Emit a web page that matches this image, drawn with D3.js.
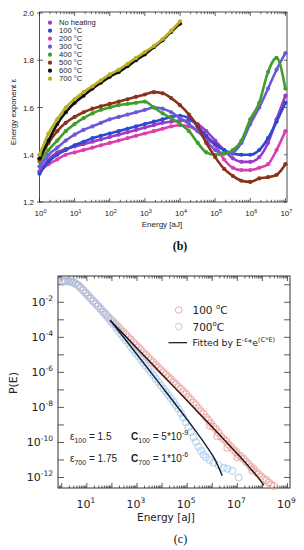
<!DOCTYPE html>
<html>
<head>
<meta charset="utf-8">
<script src="https://cdn.jsdelivr.net/npm/d3@7"></script>
<style>
  body { margin: 0; background: #fff; }
  svg { display: block; }
</style>
</head>
<body>
<div class="chart"></div>
<script>
// ---------- panel (b): energy exponent vs energy ----------
const energyB = [1, 1.8, 3.2, 5.6, 10, 18, 32, 56, 100, 180, 320, 560, 1e3, 1.8e3, 3.2e3, 5.6e3,
  1e4, 1.8e4, 3.2e4, 5.6e4, 1e5, 1.8e5, 3.2e5, 5.6e5, 1e6, 1.8e6, 3.2e6, 5.6e6, 1e7];

const noHeating = [1.33, 1.38, 1.41, 1.425, 1.435, 1.445, 1.455, 1.465, 1.475, 1.485, 1.495, 1.505, 1.515, 1.525, 1.535, 1.54,
  1.545, 1.545, 1.53, 1.50, 1.46, 1.42, 1.385, 1.37, 1.37, 1.39, 1.45, 1.55, 1.65];
const t100 = [1.32, 1.37, 1.40, 1.42, 1.44, 1.455, 1.47, 1.48, 1.49, 1.50, 1.51, 1.52, 1.53, 1.54, 1.55, 1.56,
  1.565, 1.555, 1.52, 1.48, 1.445, 1.42, 1.405, 1.40, 1.40, 1.42, 1.47, 1.54, 1.62];
const t200 = [1.33, 1.36, 1.38, 1.40, 1.41, 1.42, 1.43, 1.44, 1.45, 1.46, 1.47, 1.48, 1.49, 1.50, 1.51, 1.52,
  1.525, 1.52, 1.50, 1.47, 1.44, 1.38, 1.345, 1.335, 1.335, 1.345, 1.36, 1.42, 1.50];
const t300 = [1.35, 1.40, 1.43, 1.46, 1.485, 1.505, 1.52, 1.535, 1.55, 1.56, 1.57, 1.58, 1.59, 1.60, 1.595, 1.58,
  1.555, 1.53, 1.50, 1.46, 1.42, 1.405, 1.41, 1.45, 1.53, 1.60, 1.68, 1.76, 1.83];
const t400 = [1.37, 1.42, 1.46, 1.50, 1.53, 1.555, 1.575, 1.59, 1.60, 1.61, 1.615, 1.62, 1.625, 1.60, 1.575, 1.555,
  1.53, 1.50, 1.45, 1.41, 1.40, 1.405, 1.42, 1.46, 1.55, 1.62, 1.75, 1.81, 1.68];
const t500 = [1.38, 1.45, 1.50, 1.535, 1.56, 1.58, 1.595, 1.605, 1.615, 1.625, 1.635, 1.645, 1.655, 1.665, 1.66, 1.64,
  1.61, 1.57, 1.52, 1.45, 1.39, 1.34, 1.31, 1.29, 1.285, 1.30, 1.305, 1.315, 1.36];
const t600 = [1.385, 1.46, 1.53, 1.58, 1.62, 1.65, 1.68, 1.705, 1.73, 1.75, 1.775, 1.80, 1.825, 1.855, 1.885, 1.92,
  1.955, null, null, null, null, null, null, null, null, null, null, null, null];
const t700 = [1.40, 1.49, 1.55, 1.60, 1.635, 1.665, 1.69, 1.715, 1.74, 1.76, 1.785, 1.81, 1.835, 1.86, 1.89, 1.925,
  1.965, null, null, null, null, null, null, null, null, null, null, null, null];

const seriesNames = ["No heating", "100 °C", "200 °C", "300 °C", "400 °C", "500 °C", "600 °C", "700 °C"];
const seriesValues = [noHeating, t100, t200, t300, t400, t500, t600, t700];
const seriesColors = ["#9a3cc8", "#2f48d0", "#d840b0", "#6a5ad8", "#3f9f2a", "#8a3218", "#111111", "#b8b020"];
const yTicksB = [1.2, 1.4, 1.6, 1.8, 2.0];

// ---------- panel (c): P(E) distributions (log10 values) ----------
const logE100 = [0.05, 0.15, 0.25, 0.35, 0.45, 0.55, 0.65, 0.75, 0.85, 0.95, 1.05, 1.15, 1.25, 1.35, 1.45, 1.55, 1.65, 1.75,
  1.85, 1.95, 2.05, 2.15, 2.25, 2.35, 2.45, 2.55, 2.65, 2.75, 2.85, 2.95, 3.05, 3.15, 3.25, 3.35, 3.45, 3.55, 3.65, 3.75,
  3.85, 3.95, 4.05, 4.15, 4.25, 4.35, 4.45, 4.55, 4.65, 4.75, 4.85, 4.95, 5.05, 5.15, 5.25, 5.35, 5.45, 5.55, 5.65, 5.75,
  5.85, 5.95, 6.05, 6.15, 6.25, 6.35, 6.45, 6.55, 6.65, 6.75, 6.85, 6.95, 7.05, 7.15, 7.25, 7.35, 7.45, 7.55, 7.65, 7.75,
  7.85, 7.95, 8.05, 8.15, 8.25, 8.35, 8.45, 5.9, 6.2, 6.6, 7.0, 7.6];
const logP100 = [-0.80, -0.79, -0.80, -0.82, -0.86, -0.93, -1.03, -1.16, -1.31, -1.46, -1.62, -1.77, -1.92, -2.07, -2.22,
  -2.37, -2.52, -2.67, -2.82, -2.97, -3.11, -3.26, -3.40, -3.55, -3.70, -3.84, -3.99, -4.13, -4.28, -4.42, -4.57, -4.71,
  -4.86, -5.00, -5.15, -5.29, -5.43, -5.58, -5.72, -5.86, -6.00, -6.13, -6.28, -6.40, -6.55, -6.68, -6.83, -6.95, -7.10,
  -7.22, -7.40, -7.55, -7.72, -7.86, -8.05, -8.22, -8.36, -8.58, -8.72, -8.90, -9.10, -9.25, -9.45, -9.66, -9.80, -9.92,
  -10.12, -10.26, -10.42, -10.56, -10.72, -10.80, -10.95, -11.10, -11.25, -11.40, -11.52, -11.68, -11.82, -11.95, -12.08,
  -12.15, -12.28, -12.40, -12.48, -9.05, -9.65, -10.30, -10.85, -11.60];

const logE700 = [0.05, 0.15, 0.25, 0.35, 0.45, 0.55, 0.65, 0.75, 0.85, 0.95, 1.05, 1.15, 1.25, 1.35, 1.45, 1.55, 1.65, 1.75,
  1.85, 1.95, 2.05, 2.15, 2.25, 2.35, 2.45, 2.55, 2.65, 2.75, 2.85, 2.95, 3.05, 3.15, 3.25, 3.35, 3.45, 3.55, 3.65, 3.75,
  3.85, 3.95, 4.05, 4.15, 4.25, 4.35, 4.45, 4.55, 4.65, 4.75, 4.85, 4.95, 5.05, 5.15, 5.25, 5.35, 5.45, 5.55, 5.65, 5.75,
  5.9, 6.05, 6.25, 6.45, 6.6, 6.8, 7.05];
const logP700 = [-0.80, -0.79, -0.80, -0.82, -0.86, -0.93, -1.03, -1.16, -1.31, -1.46, -1.62, -1.77, -1.92, -2.07, -2.22,
  -2.39, -2.56, -2.73, -2.90, -3.08, -3.26, -3.44, -3.62, -3.80, -3.98, -4.16, -4.34, -4.52, -4.71, -4.89, -5.07, -5.25,
  -5.44, -5.62, -5.80, -5.99, -6.17, -6.36, -6.55, -6.73, -6.92, -7.11, -7.30, -7.49, -7.68, -7.88, -8.08, -8.32, -8.58,
  -8.85, -9.12, -9.40, -9.70, -9.98, -10.25, -10.48, -10.70, -10.85, -11.00, -11.15, -11.30, -11.45, -11.50, -11.62, -12.00];

const fitLogE100 = [1.93, 3.0, 4.0, 5.0, 6.0, 7.0, 7.5, 7.8, 8.06];
const fitLogP100 = [-3.02, -4.62, -6.12, -7.62, -9.12, -10.65, -11.45, -11.95, -12.45];
const fitLogE700 = [1.93, 3.0, 3.8, 5.0, 5.8, 6.1, 6.4];
const fitLogP700 = [-3.02, -4.98, -6.46, -8.70, -10.28, -10.95, -11.90];

const W = 304, H = 550;
const svg = d3.select(".chart").append("svg").attr("width", W).attr("height", H)
  .style("font-family", "'Liberation Sans', Arial, sans-serif");

// ===== panel (b) =====
const xb = d3.scaleLog().domain([1, 1.11e7]).range([39.5, 287]);
const yb = d3.scaleLinear().domain([1.2, 2.0]).range([202, 13]);
const gb = svg.append("g");

gb.append("rect").attr("x", 39.5).attr("y", 12).attr("width", 287 - 39.5).attr("height", 202 - 12)
  .attr("fill", "none").attr("stroke", "#222").attr("stroke-width", 0.8);

// x ticks (log, inside, top and bottom)
for (let d = 0; d <= 7; d++) {
  for (let k = 1; k <= 9; k++) {
    const v = k * Math.pow(10, d);
    if (v > xb.domain()[1]) continue;
    const x = xb(v), len = k === 1 ? 4 : 2.2;
    gb.append("line").attr("x1", x).attr("x2", x).attr("y1", 202).attr("y2", 202 - len).attr("stroke", "#222").attr("stroke-width", 0.7);
    gb.append("line").attr("x1", x).attr("x2", x).attr("y1", 12).attr("y2", 12 + len).attr("stroke", "#222").attr("stroke-width", 0.7);
  }
  const t = gb.append("text").attr("x", xb(Math.pow(10, d)) + 1).attr("y", 216).attr("text-anchor", "middle")
    .attr("font-size", 8).attr("fill", "#222");
  t.append("tspan").text("10");
  t.append("tspan").attr("dy", -3.5).attr("font-size", 5.5).text(d);
}
yTicksB.forEach(v => {
  const y = yb(v);
  gb.append("line").attr("x1", 37).attr("x2", 43).attr("y1", y).attr("y2", y).attr("stroke", "#222").attr("stroke-width", 0.7);
  gb.append("line").attr("x1", 284).attr("x2", 287).attr("y1", y).attr("y2", y).attr("stroke", "#222").attr("stroke-width", 0.7);
  gb.append("text").attr("x", 34).attr("y", y + 3).attr("text-anchor", "end").attr("font-size", 8).attr("fill", "#222")
    .text(v.toFixed(1));
});

const lineB = d3.line().defined(d => d[1] != null).x(d => xb(d[0])).y(d => yb(d[1])).curve(d3.curveMonotoneX);
const drawOrder = [0, 2, 1, 3, 4, 5, 6, 7];
drawOrder.forEach(i => {
  const pts = energyB.map((e, j) => [e, seriesValues[i][j]]);
  gb.append("path").datum(pts).attr("d", lineB).attr("fill", "none")
    .attr("stroke", seriesColors[i]).attr("stroke-width", 2.6).attr("stroke-linejoin", "round");
  gb.selectAll(null).data(pts.filter(d => d[1] != null)).enter().append("circle")
    .attr("cx", d => xb(d[0])).attr("cy", d => yb(d[1])).attr("r", 2.1).attr("fill", seriesColors[i]);
});

// legend (b)
seriesNames.forEach((n, i) => {
  const y = 22.7 + i * 8;
  gb.append("circle").attr("cx", 50).attr("cy", y).attr("r", 2.1).attr("fill", seriesColors[i]);
  gb.append("text").attr("x", 59).attr("y", y + 2.7).attr("font-size", 7.6).attr("fill", "#222").text(n);
});

gb.append("text").attr("transform", "translate(16,112) rotate(-90)").attr("text-anchor", "middle")
  .attr("font-size", 8).attr("fill", "#222").text("Energy exponent ε");
gb.append("text").attr("x", 162).attr("y", 227).attr("text-anchor", "middle").attr("font-size", 8).attr("fill", "#222")
  .text("Energy [aJ]");
gb.append("text").attr("x", 180).attr("y", 250).attr("text-anchor", "middle").attr("font-size", 12)
  .attr("font-weight", "bold").attr("font-family", "'Liberation Serif', serif").attr("fill", "#111").text("(b)");

// ===== panel (c) =====
const xc = d3.scaleLog().domain([Math.pow(10, -0.15), Math.pow(10, 9.1)]).range([58, 290]);
const yc = d3.scaleLog().domain([Math.pow(10, -12.6), Math.pow(10, -0.5)]).range([488, 276]);
const gc = svg.append("g").style("font-family", "'DejaVu Sans', sans-serif");

gc.append("rect").attr("x", 58).attr("y", 276).attr("width", 232).attr("height", 212)
  .attr("fill", "none").attr("stroke", "#333").attr("stroke-width", 1);

for (let d = -1; d <= 9; d++) {
  for (let k = 1; k <= 9; k++) {
    const v = k * Math.pow(10, d);
    if (v < xc.domain()[0] || v > xc.domain()[1]) continue;
    const x = xc(v), len = k === 1 ? 5 : 2.5;
    gc.append("line").attr("x1", x).attr("x2", x).attr("y1", 488).attr("y2", 488 - len).attr("stroke", "#333").attr("stroke-width", 0.8);
    gc.append("line").attr("x1", x).attr("x2", x).attr("y1", 276).attr("y2", 276 + len).attr("stroke", "#333").attr("stroke-width", 0.8);
  }
  if (d >= 1 && d % 2 === 1) {
    const t = gc.append("text").attr("x", xc(Math.pow(10, d)) - 1).attr("y", 508).attr("text-anchor", "middle")
      .attr("font-size", 11).attr("fill", "#222");
    t.append("tspan").text("10");
    t.append("tspan").attr("dy", -5).attr("font-size", 7.5).text(d);
  }
}
for (let d = -12; d <= -1; d++) {
  const y = yc(Math.pow(10, d));
  gc.append("line").attr("x1", 58).attr("x2", 64).attr("y1", y).attr("y2", y).attr("stroke", "#333").attr("stroke-width", 0.8);
  gc.append("line").attr("x1", 284).attr("x2", 290).attr("y1", y).attr("y2", y).attr("stroke", "#333").attr("stroke-width", 0.8);
  if (d % 2 === 0) {
    const t = gc.append("text").attr("x", 53).attr("y", y + 4).attr("text-anchor", "end").attr("font-size", 11).attr("fill", "#222");
    t.append("tspan").text("10");
    t.append("tspan").attr("dy", -5).attr("font-size", 7.5).text(d);
  }
}

const pts100 = logE100.map((e, i) => [Math.pow(10, e), Math.pow(10, logP100[i])]);
const pts700 = logE700.map((e, i) => [Math.pow(10, e), Math.pow(10, logP700[i])]);
gc.selectAll("circle.r100").data(pts100).enter().append("circle").attr("class", "r100")
  .attr("cx", d => xc(d[0])).attr("cy", d => yc(d[1])).attr("r", 3.3)
  .attr("fill", "none").attr("stroke", "#e89a92").attr("stroke-opacity", 0.6).attr("stroke-width", 1.4);
gc.selectAll("circle.r700").data(pts700).enter().append("circle").attr("class", "r700")
  .attr("cx", d => xc(d[0])).attr("cy", d => yc(d[1])).attr("r", 3.3)
  .attr("fill", "none").attr("stroke", "#9cc4ec").attr("stroke-opacity", 0.6).attr("stroke-width", 1.4);

const lineC = d3.line().x(d => xc(d[0])).y(d => yc(d[1])).curve(d3.curveMonotoneX);
gc.append("path").datum(fitLogE100.map((e, i) => [Math.pow(10, e), Math.pow(10, fitLogP100[i])]))
  .attr("d", lineC).attr("fill", "none").attr("stroke", "#2a1212").attr("stroke-width", 1.4);
gc.append("path").datum(fitLogE700.map((e, i) => [Math.pow(10, e), Math.pow(10, fitLogP700[i])]))
  .attr("d", lineC).attr("fill", "none").attr("stroke", "#121a2e").attr("stroke-width", 1.4);

// legend (c)
gc.append("circle").attr("cx", 178.7).attr("cy", 310).attr("r", 3.3).attr("fill", "none").attr("stroke", "#e8b0aa");
gc.append("circle").attr("cx", 178.7).attr("cy", 326.5).attr("r", 3.3).attr("fill", "none").attr("stroke", "#b4d4f0");
gc.append("line").attr("x1", 168.5).attr("x2", 187).attr("y1", 342.7).attr("y2", 342.7).attr("stroke", "#111").attr("stroke-width", 1.2);
let t = gc.append("text").attr("x", 192.5).attr("y", 314).attr("font-size", 10.5).attr("fill", "#222");
t.append("tspan").text("100 ");
t.append("tspan").attr("dy", -5).attr("font-size", 7).text("o");
t.append("tspan").attr("dy", 5).text("C");
t = gc.append("text").attr("x", 192.5).attr("y", 330.5).attr("font-size", 10.5).attr("fill", "#222");
t.append("tspan").text("700");
t.append("tspan").attr("dy", -5).attr("font-size", 7).text("o");
t.append("tspan").attr("dy", 5).text("C");
t = gc.append("text").attr("x", 192.5).attr("y", 346).attr("font-size", 9.3).attr("fill", "#222");
t.append("tspan").text("Fitted by E");
t.append("tspan").attr("dy", -4).attr("font-size", 6.5).text("-ε");
t.append("tspan").attr("dy", 4).text("*e");
t.append("tspan").attr("dy", -4).attr("font-size", 6.5).text("(C*E)");

// fit parameters
function annot(x, y, sym, sub, rest, bold) {
  const a = gc.append("text").attr("x", x).attr("y", y).attr("font-size", 10)
    .attr("font-family", "'Liberation Sans', Arial, sans-serif").attr("fill", "#222");
  a.append("tspan").attr("font-weight", bold ? "bold" : null).text(sym);
  a.append("tspan").attr("dy", 3).attr("font-size", 7).text(sub);
  a.append("tspan").attr("dy", -3).text(rest);
  return a;
}
annot(70, 440, "ε", "100", " = 1.5", false);
annot(70, 462, "ε", "700", " = 1.75", false);
let a = annot(131, 440, "C", "100", " = 5*10", true);
a.append("tspan").attr("dy", -5).attr("font-size", 7).text("-9");
a = annot(131, 462, "C", "700", " = 1*10", true);
a.append("tspan").attr("dy", -5).attr("font-size", 7).text("-6");

gc.append("text").attr("transform", "translate(17,383) rotate(-90)").attr("text-anchor", "middle")
  .attr("font-size", 11).attr("fill", "#222").text("P(E)");
gc.append("text").attr("x", 166).attr("y", 521).attr("text-anchor", "middle").attr("font-size", 10.5).attr("fill", "#222")
  .text("Energy [aJ]");
gc.append("text").attr("x", 180.5).attr("y", 543).attr("text-anchor", "middle").attr("font-size", 12)
  .attr("font-family", "'Liberation Serif', serif").attr("fill", "#111").text("(c)");
</script>
</body>
</html>
